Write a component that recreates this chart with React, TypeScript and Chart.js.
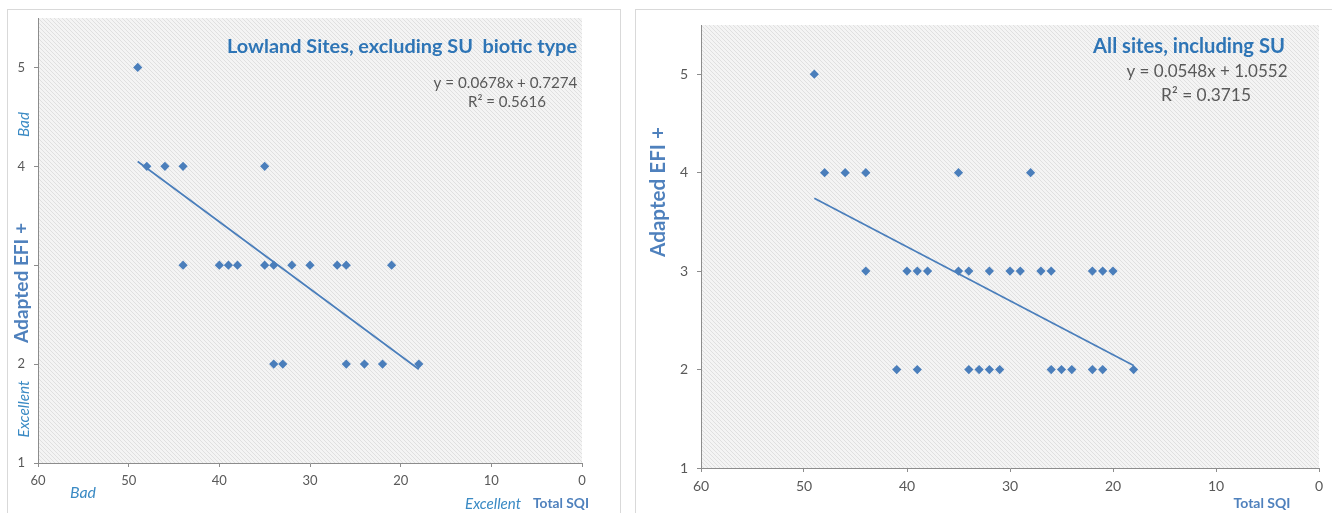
import React, { useEffect, useRef } from 'react';
import { Chart, registerables } from 'chart.js';

Chart.register(...registerables);

// ---------- data ----------
const lowlandSQI = [49, 48, 46, 44, 35, 44, 40, 39, 38, 35, 34, 32, 30, 27, 26, 21, 34, 33, 26, 24, 22, 18];
const lowlandEFI = [5, 4, 4, 4, 4, 3, 3, 3, 3, 3, 3, 3, 3, 3, 3, 3, 2, 2, 2, 2, 2, 2];

const allSQI = [49, 48, 46, 44, 35, 28, 44, 40, 39, 38, 35, 34, 32, 30, 29, 27, 26, 22, 21, 20, 41, 39, 34, 33, 32, 31, 26, 25, 24, 22, 21, 18];
const allEFI = [5, 4, 4, 4, 4, 4, 3, 3, 3, 3, 3, 3, 3, 3, 3, 3, 3, 3, 3, 3, 2, 2, 2, 2, 2, 2, 2, 2, 2, 2, 2, 2];

const lowlandSlope = 0.0678;
const lowlandIntercept = 0.7274;
const allSlope = 0.0548;
const allIntercept = 1.0552;
const trendRangeSQI = [49, 18];

const xTickValues = [60, 50, 40, 30, 20, 10, 0];
const yTickValues = [1, 2, 3, 4, 5];

const leftTitle = 'Lowland Sites, excluding SU  biotic type';
const leftEquation = 'y = 0.0678x + 0.7274';
const leftR2 = 'R\u00B2 = 0.5616';
const rightTitle = 'All sites, including SU';
const rightEquation = 'y = 0.0548x + 1.0552';
const rightR2 = 'R\u00B2 = 0.3715';
const yAxisTitle = 'Adapted EFI +';
const xAxisTitle = 'Total SQI';
const badLabel = 'Bad';
const excellentLabel = 'Excellent';

// ---------- styles ----------
const FONT = 'Lato, "Open Sans", sans-serif';
const MARK = '#4A7EBB';
const TICK = '#595959';
const AXIS = '#8C8C8C';
const TITLE_BLUE = '#2E75B6';
const AX_BLUE = '#4F81BD';
const ITAL_BLUE = '#3A8AC4';

type TextItem = {
  text: string; x: number; y: number; size: number; w?: number;
  weight?: string; style?: string; color: string; align?: CanvasTextAlign; rot?: boolean;
};

function textPlugin(items: TextItem[]) {
  return {
    id: 'texts',
    afterDraw(chart: any) {
      const ctx: CanvasRenderingContext2D = chart.ctx;
      for (const it of items) {
        ctx.save();
        const f = (s: number) => `${it.style || 'normal'} ${it.weight || 'normal'} ${s}px ${FONT}`;
        let size = it.size;
        ctx.font = f(size);
        if (it.w) {
          const m = ctx.measureText(it.text).width;
          if (m > 0) size = size * it.w / m;
          ctx.font = f(size);
        }
        ctx.fillStyle = it.color;
        ctx.textAlign = it.align || 'center';
        ctx.textBaseline = 'middle';
        ctx.translate(it.x, it.y);
        if (it.rot) ctx.rotate(-Math.PI / 2);
        ctx.fillText(it.text, 0, 0);
        ctx.restore();
      }
    },
  };
}

const hatchPlugin = {
  id: 'hatch',
  beforeDraw(chart: any) {
    const { ctx, chartArea } = chart;
    if (!chartArea) return;
    const c = document.createElement('canvas');
    c.width = 4; c.height = 4;
    const p = c.getContext('2d')!;
    p.fillStyle = '#F4F4F4';
    p.fillRect(0, 0, 4, 4);
    p.strokeStyle = '#E0E0E0';
    p.lineWidth = 1;
    p.beginPath();
    p.moveTo(-1, -1); p.lineTo(5, 5);
    p.moveTo(-1, 3); p.lineTo(1, 5);
    p.moveTo(3, -1); p.lineTo(5, 1);
    p.stroke();
    const pat = ctx.createPattern(c, 'repeat');
    ctx.save();
    ctx.fillStyle = pat;
    ctx.fillRect(chartArea.left, chartArea.top, chartArea.right - chartArea.left, chartArea.bottom - chartArea.top);
    ctx.restore();
  },
};

type PanelCfg = {
  sqi: number[]; efi: number[]; slope: number; intercept: number;
  yWidth: number; xHeight: number; padTop: number; padRight: number; tickSize: number;
  hideY?: number[]; texts: TextItem[];
};

function makeChart(canvas: HTMLCanvasElement, cfg: PanelCfg) {
  const points = cfg.sqi.map((x, i) => ({ x, y: cfg.efi[i] }));
  const trend = trendRangeSQI.map((x) => ({ x, y: cfg.slope * x + cfg.intercept }));
  return new Chart(canvas, {
    type: 'scatter',
    data: {
      datasets: [
        {
          data: trend,
          showLine: true,
          borderColor: MARK,
          borderWidth: 1.75,
          pointRadius: 0,
          pointHoverRadius: 0,
        } as any,
        {
          data: points,
          pointStyle: 'rectRot',
          pointRadius: 4.6,
          pointBackgroundColor: MARK,
          pointBorderColor: MARK,
          pointBorderWidth: 0,
        } as any,
      ],
    },
    options: {
      animation: false,
      responsive: false,
      events: [],
      layout: { padding: { left: 0, top: cfg.padTop, right: cfg.padRight, bottom: 0 } },
      plugins: { legend: { display: false }, tooltip: { enabled: false }, title: { display: false } },
      scales: {
        x: {
          type: 'linear',
          reverse: true,
          min: 0,
          max: 60,
          afterBuildTicks: (s: any) => { s.ticks = xTickValues.map((v) => ({ value: v })); },
          afterFit: (s: any) => { s.height = cfg.xHeight; },
          ticks: { color: TICK, font: { family: FONT, size: cfg.tickSize }, padding: 6, maxRotation: 0 },
          grid: { drawOnChartArea: false, drawTicks: true, tickLength: 4, color: AXIS },
          border: { display: true, color: AXIS, width: 1 },
        },
        y: {
          type: 'linear',
          min: 1,
          max: 5.5,
          afterBuildTicks: (s: any) => { s.ticks = yTickValues.map((v) => ({ value: v })); },
          afterFit: (s: any) => { s.width = cfg.yWidth; },
          ticks: {
            color: TICK,
            font: { family: FONT, size: cfg.tickSize },
            padding: 9,
            callback: (v: any) => (cfg.hideY && cfg.hideY.includes(Number(v)) ? '' : String(v)),
          },
          grid: { drawOnChartArea: false, drawTicks: true, tickLength: 4, color: AXIS },
          border: { display: true, color: AXIS, width: 1 },
        },
      },
    },
    plugins: [hatchPlugin, textPlugin(cfg.texts)],
  });
}

const leftCfg: PanelCfg = {
  sqi: lowlandSQI, efi: lowlandEFI, slope: lowlandSlope, intercept: lowlandIntercept,
  yWidth: 38, xHeight: 50, padTop: 18, padRight: 46, tickSize: 13, hideY: [3],
  texts: [
    { text: leftTitle, x: 577, y: 47, size: 19, w: 350, weight: 'bold', color: TITLE_BLUE, align: 'right' },
    { text: leftEquation, x: 505.5, y: 83, size: 15, w: 144, color: TICK },
    { text: leftR2, x: 507, y: 102, size: 15, w: 78, color: TICK },
    { text: yAxisTitle, x: 22, y: 283, size: 17, w: 120, weight: 'bold', color: AX_BLUE, rot: true },
    { text: badLabel, x: 24, y: 124.5, size: 13, w: 25, style: 'italic', color: ITAL_BLUE, rot: true },
    { text: excellentLabel, x: 24, y: 409, size: 13, w: 57, style: 'italic', color: ITAL_BLUE, rot: true },
    { text: badLabel, x: 83, y: 493, size: 13, w: 26, style: 'italic', color: ITAL_BLUE },
    { text: excellentLabel, x: 493, y: 504, size: 13, w: 56, style: 'italic', color: ITAL_BLUE },
    { text: xAxisTitle, x: 561, y: 504, size: 14, w: 56, weight: 'bold', color: AX_BLUE },
  ],
};

const RX = 628;
const rightCfg: PanelCfg = {
  sqi: allSQI, efi: allEFI, slope: allSlope, intercept: allIntercept,
  yWidth: 73, xHeight: 45, padTop: 25, padRight: 13, tickSize: 14,
  texts: [
    { text: rightTitle, x: 1285 - RX, y: 46, size: 19, w: 192, weight: 'bold', color: TITLE_BLUE, align: 'right' },
    { text: rightEquation, x: 1207 - RX, y: 72, size: 16, w: 161, color: TICK },
    { text: rightR2, x: 1206 - RX, y: 95, size: 16, w: 90, color: TICK },
    { text: yAxisTitle, x: 658 - RX, y: 192, size: 18, w: 130, weight: 'bold', color: AX_BLUE, rot: true },
    { text: xAxisTitle, x: 1262 - RX, y: 503, size: 16, w: 57, weight: 'bold', color: AX_BLUE },
  ],
};

export default function App() {
  const leftRef = useRef<HTMLCanvasElement>(null);
  const rightRef = useRef<HTMLCanvasElement>(null);

  useEffect(() => {
    const charts: Chart[] = [];
    if (leftRef.current) charts.push(makeChart(leftRef.current, leftCfg));
    if (rightRef.current) charts.push(makeChart(rightRef.current, rightCfg));
    return () => charts.forEach((c) => c.destroy());
  }, []);

  return (
    <div style={{ position: 'fixed', left: 0, top: 0, width: 1332, height: 513, overflow: 'hidden', background: '#fff' }}>
      <div style={{ position: 'absolute', left: 7, top: 9, width: 614, height: 600, border: '1px solid #D9D9D9', boxSizing: 'border-box' }} />
      <div style={{ position: 'absolute', left: 635, top: 9, width: 800, height: 600, border: '1px solid #D9D9D9', boxSizing: 'border-box' }} />
      <canvas ref={leftRef} width={628} height={513} style={{ position: 'absolute', left: 0, top: 0, width: 628, height: 513 }} />
      <canvas ref={rightRef} width={704} height={513} style={{ position: 'absolute', left: RX, top: 0, width: 704, height: 513 }} />
    </div>
  );
}
